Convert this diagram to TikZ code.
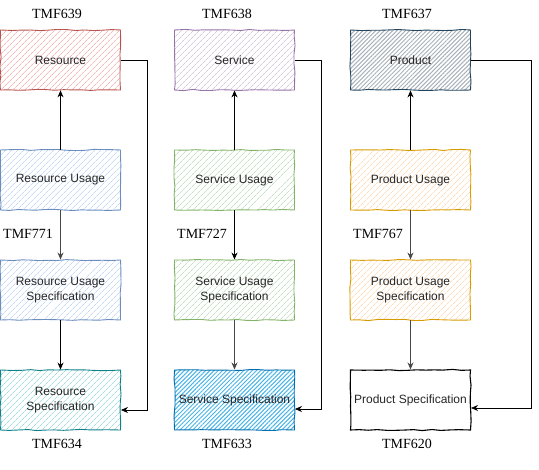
\documentclass[tikz,border=0pt]{standalone}
\usepackage{fontspec}
\setmainfont{Liberation Serif}
\newfontfamily\arialf{Liberation Sans}
\usetikzlibrary{patterns.meta,decorations.pathmorphing,arrows.meta}
\definecolor{redS}{HTML}{B85450}\definecolor{redF}{HTML}{F4B8B6}
\definecolor{bluS}{HTML}{6C8EBF}\definecolor{bluF}{HTML}{C5DAF6}
\definecolor{teaS}{HTML}{0E8088}\definecolor{teaF}{HTML}{A5DDE0}
\definecolor{purS}{HTML}{9673A6}\definecolor{purF}{HTML}{D8C8E0}
\definecolor{greS}{HTML}{82B366}\definecolor{greF}{HTML}{C6E0C4}
\definecolor{skyS}{HTML}{006EAF}\definecolor{skyF}{HTML}{1BA1E2}
\definecolor{prdS}{HTML}{23445D}\definecolor{prdF}{HTML}{A8B2BA}
\definecolor{orgS}{HTML}{D79B00}\definecolor{orgF}{HTML}{FFDDBB}
\begin{document}
\begin{tikzpicture}[x=1pt,y=-1pt,
  box/.style={minimum width=120pt,minimum height=60pt,inner sep=1pt,align=center,
    font=\arialf\fontsize{12}{15}\selectfont,text=black!85,line width=0.9pt,
    decorate,decoration={random steps,segment length=9pt,amplitude=0.6pt}},
  hatch/.style 2 args={draw=#1,pattern={Lines[angle=45,distance=4pt,line width=0.8pt]},pattern color=#2},
  dense/.style 2 args={draw=#1,pattern={Lines[angle=45,distance=3pt,line width=1pt]},pattern color=#2},
  tmf/.style={font=\fontsize{14}{16}\selectfont,inner sep=0pt},
  arr/.style={line width=0.8pt,-{Stealth[length=7pt,width=6pt]}},
  garr/.style={arr,line width=1pt,draw=black!72}]
\useasboundingbox (0,0) rectangle (539,470);
\pgfmathsetseed{7}
% Resource column
\node[box,hatch={redS}{redF}] (res) at (60.5,60) {Resource};
\node[box,hatch={bluS}{bluF}] (resu) at (60.5,180) {Resource Usage};
\node[box,hatch={bluS}{bluF}] (resus) at (60.5,290) {Resource Usage\\Specification};
\node[box,hatch={teaS}{teaF}] (ress) at (60.5,400) {Resource\\Specification};
% Service column
\node[box,hatch={purS}{purF}] (ser) at (234.5,60) {Service};
\node[box,hatch={greS}{greF}] (seru) at (234.5,180) {Service Usage};
\node[box,hatch={greS}{greF}] (serus) at (234.5,290) {Service Usage\\Specification};
\node[box,dense={skyS}{skyF!80}] (sers) at (234.5,400) {Service Specification};
% Product column
\node[box,dense={prdS}{prdF}] (prd) at (410.5,60) {Product};
\node[box,hatch={orgS}{orgF}] (prdu) at (410.5,180) {Product Usage};
\node[box,hatch={orgS}{orgF}] (prdus) at (410.5,290) {Product Usage\\Specification};
\node[box,draw=black,line width=1.1pt] (prds) at (410.5,400) {Product Specification};
% labels
\node[tmf] (l639) at (57,14) {TMF639};
\node[tmf] (l638) at (227,14) {TMF638};
\node[tmf] (l637) at (407,14) {TMF637};
\node[tmf,anchor=west] (l771) at (3,234) {TMF771};
\node[tmf,anchor=west] (l727) at (177,234) {TMF727};
\node[tmf,anchor=west] (l767) at (353,234) {TMF767};
\node[tmf] (l634) at (57,444) {TMF634};
\node[tmf] (l633) at (227,444) {TMF633};
\node[tmf] (l620) at (407,444) {TMF620};
% vertical arrows
\draw[arr] (resu) -- (res);
\draw[garr] (resu) -- (resus);
\draw[arr] (resus) -- (ress);
\draw[arr] (seru) -- (ser);
\draw[arr] (seru) -- (serus);
\draw[garr] (serus) -- (sers);
\draw[arr] (prdu) -- (prd);
\draw[garr] (prdu) -- (prdus);
\draw[garr] (prdus) -- (prds);
% side connectors
\coordinate (r1) at (147,60); \coordinate (r2) at (147,410);
\coordinate (s1) at (321,60); \coordinate (s2) at (321,409);
\coordinate (p1) at (531,60); \coordinate (p2) at (531,408);
\draw[arr,line width=0.7pt] (res.east) -- (r1) -- (r2) -- (r2 -| ress.east);
\draw[arr,line width=0.7pt] (ser.east) -- (s1) -- (s2) -- (s2 -| sers.east);
\draw[arr,line width=0.7pt] (prd.east) -- (p1) -- (p2) -- (p2 -| prds.east);
\end{tikzpicture}
\end{document}
